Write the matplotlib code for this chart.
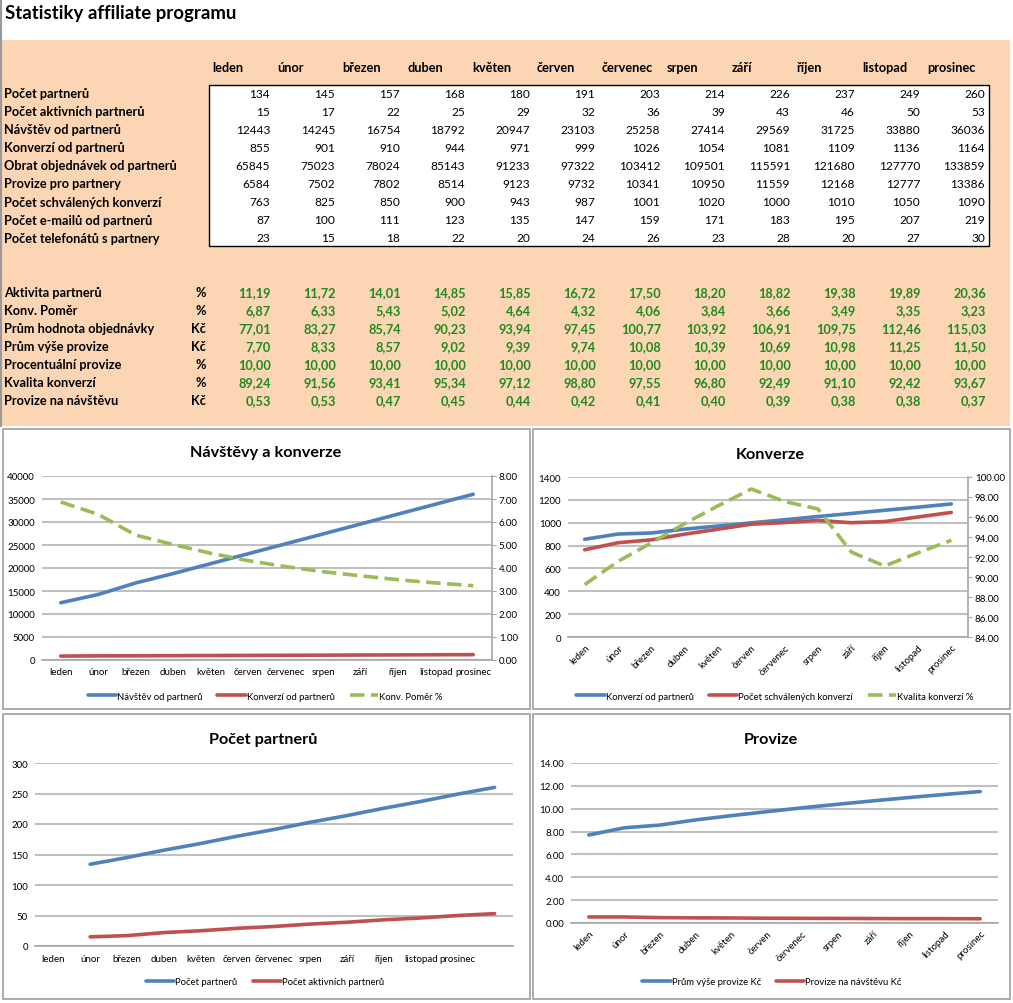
import matplotlib
matplotlib.use('Agg')
import matplotlib.pyplot as plt
from matplotlib.patches import Rectangle
from matplotlib.lines import Line2D
import numpy as np

plt.rcParams['font.family'] = ['Lato', 'DejaVu Sans']

# Input data
months = ['leden', 'únor', 'březen', 'duben', 'květen', 'červen', 'červenec',
          'srpen', 'září', 'říjen', 'listopad', 'prosinec']

row_names = ['Počet partnerů', 'Počet aktivních partnerů', 'Návštěv od partnerů',
             'Konverzí od partnerů', 'Obrat objednávek od partnerů', 'Provize pro partnery',
             'Počet schválených konverzí', 'Počet e-mailů od partnerů', 'Počet telefonátů s partnery']
partners = [134, 145, 157, 168, 180, 191, 203, 214, 226, 237, 249, 260]
active_partners = [15, 17, 22, 25, 29, 32, 36, 39, 43, 46, 50, 53]
visits = [12443, 14245, 16754, 18792, 20947, 23103, 25258, 27414, 29569, 31725, 33880, 36036]
conversions = [855, 901, 910, 944, 971, 999, 1026, 1054, 1081, 1109, 1136, 1164]
turnover = [65845, 75023, 78024, 85143, 91233, 97322, 103412, 109501, 115591, 121680, 127770, 133859]
commission = [6584, 7502, 7802, 8514, 9123, 9732, 10341, 10950, 11559, 12168, 12777, 13386]
approved = [763, 825, 850, 900, 943, 987, 1001, 1020, 1000, 1010, 1050, 1090]
emails = [87, 100, 111, 123, 135, 147, 159, 171, 183, 195, 207, 219]
calls = [23, 15, 18, 22, 20, 24, 26, 23, 28, 20, 27, 30]

kpi_names = ['Aktivita partnerů', 'Konv. Poměr', 'Prům hodnota objednávky', 'Prům výše provize',
             'Procentuální provize', 'Kvalita konverzí', 'Provize na návštěvu']
kpi_units = ['%', '%', 'Kč', 'Kč', '%', '%', 'Kč']
activity = [11.19, 11.72, 14.01, 14.85, 15.85, 16.72, 17.50, 18.20, 18.82, 19.38, 19.89, 20.36]
conv_ratio = [6.87, 6.33, 5.43, 5.02, 4.64, 4.32, 4.06, 3.84, 3.66, 3.49, 3.35, 3.23]
avg_order = [77.01, 83.27, 85.74, 90.23, 93.94, 97.45, 100.77, 103.92, 106.91, 109.75, 112.46, 115.03]
avg_commission = [7.70, 8.33, 8.57, 9.02, 9.39, 9.74, 10.08, 10.39, 10.69, 10.98, 11.25, 11.50]
pct_commission = [10.00] * 12
conv_quality = [89.24, 91.56, 93.41, 95.34, 97.12, 98.80, 97.55, 96.80, 92.49, 91.10, 92.42, 93.67]
commission_per_visit = [0.53, 0.53, 0.47, 0.45, 0.44, 0.42, 0.41, 0.40, 0.39, 0.38, 0.38, 0.37]

table_rows = [partners, active_partners, visits, conversions, turnover, commission,
              approved, emails, calls]
kpi_rows = [activity, conv_ratio, avg_order, avg_commission, pct_commission,
            conv_quality, commission_per_visit]

BLUE = '#4F81BD'
RED = '#C0504D'
GREEN = '#9BBB59'
TXT_GREEN = '#1F8A1F'

W, H = 1013, 1004
fig = plt.figure(figsize=(W / 100, H / 100), dpi=100)


def fx(x):
    return x / W


def fy(y):
    return 1 - y / H


def add_ax(l, t, r, b):
    a = fig.add_axes([l / W, 1 - b / H, (r - l) / W, (b - t) / H])
    a.set_zorder(2)
    return a


# Sheet background
fig.patches.append(Rectangle((0, fy(427)), fx(1010), (427 - 41) / H, transform=fig.transFigure,
                             facecolor='#FCD5B4', edgecolor='none', zorder=0))
fig.lines.append(Line2D([fx(0.5), fx(0.5)], [fy(0), fy(427)], transform=fig.transFigure,
                        color='#999999', lw=1.5))
fig.text(fx(5), fy(13), 'Statistiky affiliate programu', fontsize=13.4, fontweight='bold',
         va='center', ha='left')

FS_LBL = 9.2
FS_NUM = 8.6

# Table header
for i, m in enumerate(months):
    fig.text(fx(212 + 65 * i), fy(68), m, fontsize=FS_LBL, fontweight='bold', va='center', ha='left')

fig.patches.append(Rectangle((fx(209), fy(247)), (989 - 209) / W, (247 - 86) / H,
                             transform=fig.transFigure, facecolor='white', edgecolor='black',
                             lw=1, zorder=1))
for r, (name, vals) in enumerate(zip(row_names, table_rows)):
    y = 94 + 18.1 * r
    fig.text(fx(4), fy(y), name, fontsize=FS_LBL, fontweight='bold', va='center', ha='left')
    for i, v in enumerate(vals):
        fig.text(fx(270 + 65 * i), fy(y), str(v), fontsize=FS_NUM, va='center', ha='right')

for r, (name, unit, vals) in enumerate(zip(kpi_names, kpi_units, kpi_rows)):
    y = 293 + 18 * r
    fig.text(fx(4), fy(y), name, fontsize=FS_LBL, fontweight='bold', va='center', ha='left')
    fig.text(fx(206), fy(y), unit, fontsize=FS_LBL, fontweight='bold', va='center', ha='right')
    for i, v in enumerate(vals):
        fig.text(fx(271 + 65 * i), fy(y), f'{v:.2f}'.replace('.', ','), fontsize=FS_LBL,
                 fontweight='bold', color=TXT_GREEN, va='center', ha='right')

# Chart frames
for (l, t, r, b) in [(3, 430, 530, 710), (533, 430, 1010, 710), (3, 715, 530, 1000), (533, 715, 1010, 1000)]:
    fig.patches.append(Rectangle((fx(l), fy(b)), (r - l) / W, (b - t) / H, transform=fig.transFigure,
                                 facecolor='white', edgecolor='#A6A6A6', lw=1.3, zorder=0.5))


def style(ax, ymax, step, fmt, n):
    ax.set_facecolor('none')
    ax.set_xlim(-0.5, n - 0.5)
    ax.set_ylim(0, ymax)
    ax.set_yticks(np.arange(0, ymax + step / 2, step))
    ax.yaxis.set_major_formatter(plt.FormatStrFormatter(fmt))
    ax.yaxis.grid(True, color='#C0C0C0', lw=1.5)
    ax.set_axisbelow(True)
    for s in ['top', 'left', 'right']:
        ax.spines[s].set_visible(False)
    ax.spines['bottom'].set_color('#A6A6A6')
    ax.spines['bottom'].set_linewidth(1.2)
    ax.tick_params(axis='y', length=0, labelsize=7, pad=5)
    ax.tick_params(axis='x', length=0, labelsize=7)


def right_axis(ax, lo, hi, step):
    ax2 = ax.twinx()
    ax2.set_zorder(3)
    ax2.set_facecolor('none')
    ax2.set_ylim(lo, hi)
    ax2.set_yticks(np.arange(lo, hi + step / 2, step))
    ax2.yaxis.set_major_formatter(plt.FormatStrFormatter('%.2f'))
    for s in ['top', 'left', 'bottom']:
        ax2.spines[s].set_visible(False)
    ax2.spines['right'].set_color('#A6A6A6')
    ax2.spines['right'].set_linewidth(1.2)
    ax2.tick_params(axis='y', length=3, color='#A6A6A6', labelsize=7, pad=2)
    return ax2


def legend(ax, handles, cx, cy):
    ax.legend(handles=handles, loc='center', bbox_to_anchor=(fx(cx), fy(cy)),
              bbox_transform=fig.transFigure, ncol=len(handles), frameon=False,
              fontsize=6.8, handlelength=3.0, handletextpad=0.1, columnspacing=1.6)


LW = 2.6
x = np.arange(12)

# Chart 1: Návštěvy a konverze
ax = add_ax(42, 477, 492, 661)
style(ax, 40000, 5000, '%d', 12)
ax.set_xticks(x)
ax.set_xticklabels(months)
ax.tick_params(axis='x', pad=5)
ax2 = right_axis(ax, 0, 8, 1)
h1, = ax.plot(x, visits, color=BLUE, lw=LW, solid_capstyle='round', label='Návštěv od partnerů')
h2, = ax.plot(x, conversions, color=RED, lw=LW, solid_capstyle='round', label='Konverzí od partnerů')
h3, = ax2.plot(x, conv_ratio, color=GREEN, lw=LW, ls=(0, (4, 1.8)), label='Konv. Poměr %')
fig.text(fx(266), fy(453), 'Návštěvy a konverze', fontsize=11.7, fontweight='bold', ha='center', va='center')
legend(ax2, [h1, h2, h3], 265, 697)

# Chart 2: Konverze
ax = add_ax(568, 478, 968, 638)
style(ax, 1400, 200, '%d', 12)
ax.set_xticks(x)
ax.set_xticklabels(months, rotation=45, ha='right', rotation_mode='anchor')
ax.tick_params(axis='x', pad=4)
ax2 = right_axis(ax, 84, 100, 2)
h1, = ax.plot(x, conversions, color=BLUE, lw=LW, solid_capstyle='round', label='Konverzí od partnerů')
h2, = ax.plot(x, approved, color=RED, lw=LW, solid_capstyle='round', label='Počet schválených konverzí')
h3, = ax2.plot(x, conv_quality, color=GREEN, lw=LW, ls=(0, (4, 1.8)), label='Kvalita konverzí %')
fig.text(fx(770), fy(455), 'Konverze', fontsize=11.7, fontweight='bold', ha='center', va='center')
legend(ax2, [h1, h2, h3], 775, 697)

# Chart 3: Počet partnerů (13 category slots, series shifted by one)
ax = add_ax(35, 764, 513, 947)
style(ax, 300, 50, '%d', 13)
ax.set_xticks(x)
ax.set_xticklabels(months)
ax.tick_params(axis='x', pad=6)
h1, = ax.plot(x + 1, partners, color=BLUE, lw=LW, solid_capstyle='round', label='Počet partnerů')
h2, = ax.plot(x + 1, active_partners, color=RED, lw=LW, solid_capstyle='round', label='Počet aktivních partnerů')
fig.text(fx(263), fy(740), 'Počet partnerů', fontsize=11.7, fontweight='bold', ha='center', va='center')
legend(ax, [h1, h2], 265, 983)

# Chart 4: Provize
ax = add_ax(571, 764, 998, 924)
style(ax, 14, 2, '%.2f', 12)
ax.set_xticks(x)
ax.set_xticklabels(months, rotation=45, ha='right', rotation_mode='anchor')
ax.tick_params(axis='x', pad=4)
h1, = ax.plot(x, avg_commission, color=BLUE, lw=LW, solid_capstyle='round', label='Prům výše provize Kč')
h2, = ax.plot(x, commission_per_visit, color=RED, lw=LW, solid_capstyle='round', label='Provize na návštěvu Kč')
fig.text(fx(771), fy(740), 'Provize', fontsize=11.7, fontweight='bold', ha='center', va='center')
legend(ax, [h1, h2], 772, 983)

fig.savefig('out.png', dpi=100)
